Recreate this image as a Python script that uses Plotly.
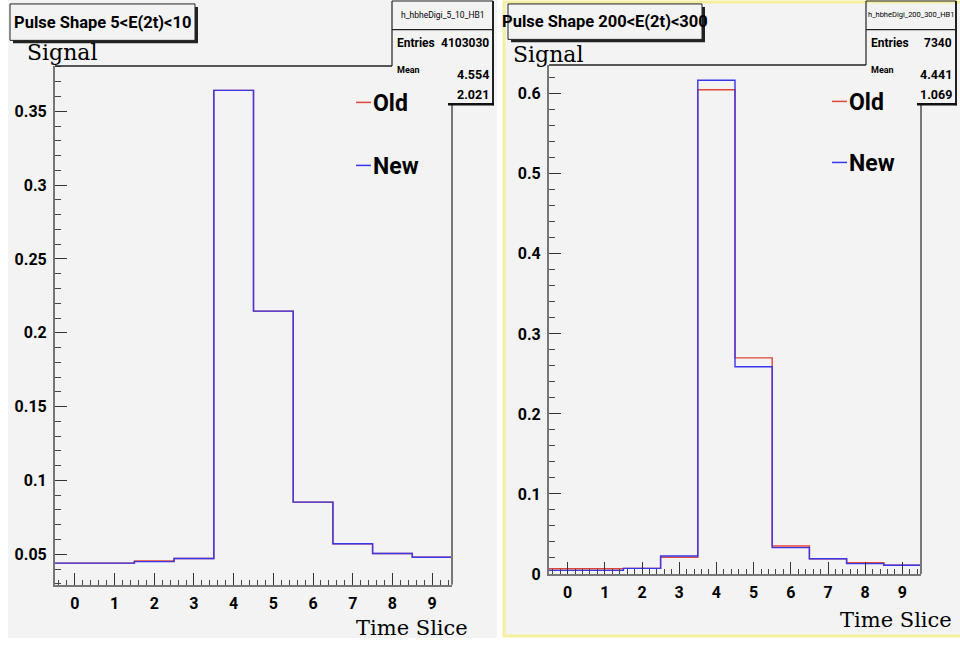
import plotly.graph_objects as go

# ---------------- data ----------------
time_slices = [0, 1, 2, 3, 4, 5, 6, 7, 8, 9]
old_low = [0.0440, 0.0440, 0.0455, 0.0471, 0.3642, 0.2147, 0.0853, 0.0571, 0.0505, 0.0480]
new_low = [0.0440, 0.0440, 0.0450, 0.0471, 0.3642, 0.2147, 0.0853, 0.0571, 0.0505, 0.0480]
old_high = [0.0065, 0.0065, 0.0070, 0.0210, 0.605, 0.270, 0.035, 0.019, 0.014, 0.011]
new_high = [0.0045, 0.0045, 0.0070, 0.0225, 0.617, 0.259, 0.033, 0.019, 0.013, 0.011]

titles = ["Pulse Shape 5<E(2t)<10", "Pulse Shape 200<E(2t)<300"]
hist_names = ["h_hbheDigi_5_10_HB1", "h_hbheDigi_200_300_HB1"]
entries = ["4103030", "7340"]
means = ["4.554", "4.441"]
rmss = ["2.021", "1.069"]

W, H = 960, 648
def px(x):
    return x / W
def py(y):
    return 1 - y / H

NARROW = "Roboto, Liberation Sans, sans-serif"
SERIF = "DejaVu Serif, Liberation Serif, serif"
RED = "rgb(225,70,55)"
BLUE = "rgb(55,55,235)"

def steps(vals):
    xs = [t - 0.5 for t in time_slices] + [time_slices[-1] + 0.5]
    ys = list(vals) + [vals[-1]]
    return xs, ys

fig = go.Figure()
for (old, new, xa, ya) in [(old_low, new_low, "x", "y"), (old_high, new_high, "x2", "y2")]:
    xs, ys = steps(old)
    fig.add_trace(go.Scatter(x=xs, y=ys, mode="lines", line=dict(color=RED, width=1.4, shape="hv"),
                             name="Old", xaxis=xa, yaxis=ya, showlegend=False))
    xs, ys = steps(new)
    fig.add_trace(go.Scatter(x=xs, y=ys, mode="lines", line=dict(color=BLUE, width=1.4, shape="hv"),
                             name="New", xaxis=xa, yaxis=ya, showlegend=False))

# panel geometry (pixels)
panels = [
    dict(x0=55, x1=452, y0=67, y1=594, yr=[0.0293, 0.3807], dt=0.05, mdt=0.01,
         bg=(8, 0, 497, 648), tb=(10, 4, 195, 41), sb=(392, 493), legx=356, legy=(104, 168),
         sig=(62, 53), ts=(412, 638)),
    dict(x0=549, x1=921, y0=66, y1=583, yr=[0.0, 0.636], dt=0.1, mdt=0.02,
         bg=(504, 2, 962, 646), tb=(508, 4, 702, 40), sb=(866, 956), legx=832, legy=(103, 165),
         sig=(548, 55), ts=(896, 630)),
]

axfont = dict(family=NARROW, size=16, color="black", weight="bold")
shapes = []
annotations = []
for i, p in enumerate(panels):
    sx = "" if i == 0 else "2"
    fig.layout["xaxis" + sx] = dict(
        domain=[px(p["x0"]), px(p["x1"])], range=[-0.5, 9.5], anchor="y" + sx,
        tickmode="linear", tick0=0, dtick=1, ticks="inside", ticklen=12, tickwidth=1.3, tickcolor="#333",
        minor=dict(tickmode="linear", tick0=0, dtick=0.2, ticks="inside", ticklen=5, tickwidth=1,
                   tickcolor="#444", showgrid=False),
        showline=True, linecolor="#777", linewidth=2, showgrid=False, zeroline=False,
        tickfont=axfont, ticklabelstandoff=3, fixedrange=True)
    fig.layout["yaxis" + sx] = dict(
        domain=[py(p["y1"]), py(p["y0"])], range=p["yr"], anchor="x" + sx,
        tickmode="linear", tick0=0, dtick=p["dt"], ticks="inside", ticklen=12, tickwidth=1.3,
        tickcolor="#333",
        minor=dict(tickmode="linear", tick0=0, dtick=p["mdt"], ticks="inside", ticklen=6, tickwidth=1,
                   tickcolor="#444", showgrid=False),
        showline=True, linecolor="#777", linewidth=2, showgrid=False, zeroline=False,
        tickfont=axfont, ticklabelstandoff=3, fixedrange=True)

    bx0, by0, bx1, by1 = p["bg"]
    border = "rgba(0,0,0,0)" if i == 0 else "rgb(245,240,160)"
    shapes.append(dict(type="rect", xref="paper", yref="paper", layer="below",
                       x0=px(bx0), x1=px(bx1), y0=py(by1), y1=py(by0),
                       fillcolor="#f3f3f3", line=dict(color=border, width=3 if i else 0)))
    # frame top line and right line
    sbx0, sbx1 = p["sb"]
    shapes.append(dict(type="line", xref="paper", yref="paper", x0=px(p["x0"]), x1=px(sbx0),
                       y0=py(p["y0"]), y1=py(p["y0"]), line=dict(color="#222", width=1.5)))
    shapes.append(dict(type="line", xref="paper", yref="paper", x0=px(p["x1"]), x1=px(p["x1"]),
                       y0=py(106), y1=py(p["y1"]), line=dict(color="#777", width=2)))
    # stats box
    shapes.append(dict(type="line", xref="paper", yref="paper", x0=px(sbx0), x1=px(sbx0),
                       y0=py(1), y1=py(p["y0"]), line=dict(color="#222", width=1.2)))
    shapes.append(dict(type="line", xref="paper", yref="paper", x0=px(sbx0), x1=px(sbx1),
                       y0=py(1), y1=py(1), line=dict(color="#222", width=1.2)))
    shapes.append(dict(type="line", xref="paper", yref="paper", x0=px(sbx0), x1=px(sbx1),
                       y0=py(30), y1=py(30), line=dict(color="#222", width=1.2)))
    shapes.append(dict(type="line", xref="paper", yref="paper", x0=px(sbx1), x1=px(sbx1),
                       y0=py(1), y1=py(107), line=dict(color="#222", width=2)))
    shapes.append(dict(type="line", xref="paper", yref="paper", x0=px(p["x1"] - 4), x1=px(sbx1 + 1),
                       y0=py(106), y1=py(106), line=dict(color="#111", width=2.5)))
    # title box with shadow
    tx0, ty0, tx1, ty1 = p["tb"]
    shapes.append(dict(type="rect", xref="paper", yref="paper", x0=px(tx0 + 3), x1=px(tx1 + 3),
                       y0=py(ty1 + 3), y1=py(ty0 + 3), fillcolor="#222", line=dict(width=0)))
    shapes.append(dict(type="rect", xref="paper", yref="paper", x0=px(tx0), x1=px(tx1),
                       y0=py(ty1), y1=py(ty0), fillcolor="#f3f3f3", line=dict(color="#222", width=1)))
    annotations.append(dict(text=titles[i], xref="paper", yref="paper", x=px((tx0 + tx1) / 2),
                            y=py((ty0 + ty1) / 2), showarrow=False, xanchor="center", yanchor="middle",
                            font=dict(family=NARROW, size=16.5, color="black", weight="bold")))
    # stats text
    annotations.append(dict(text=hist_names[i], xref="paper", yref="paper", x=px((sbx0 + sbx1) / 2),
                            y=py(15), showarrow=False, xanchor="center", yanchor="middle",
                            font=dict(family=NARROW, size=7.5 if i else 8.5, color="black")))
    for (lab, val, yy, fs, lfs) in [("Entries", entries[i], 44, 12, 12), ("Mean", means[i], 76, 12.5, 9),
                                    ("", rmss[i], 96, 12.5, 9)]:
        if lab:
            annotations.append(dict(text=lab, xref="paper", yref="paper", x=px(sbx0 + 3),
                                    y=py(yy if lab == "Entries" else 71), showarrow=False,
                                    xanchor="left", yanchor="middle",
                                    font=dict(family=NARROW, size=lfs, color="black", weight="bold")))
        annotations.append(dict(text=val, xref="paper", yref="paper", x=px(sbx1 - 2), y=py(yy),
                                showarrow=False, xanchor="right", yanchor="middle",
                                font=dict(family=NARROW, size=fs, color="black", weight="bold")))
    # legend
    for (lab, col, yy) in [("Old", RED, p["legy"][0]), ("New", BLUE, p["legy"][1])]:
        shapes.append(dict(type="line", xref="paper", yref="paper", x0=px(p["legx"]), x1=px(p["legx"] + 15),
                           y0=py(yy), y1=py(yy), line=dict(color=col, width=1.5)))
        annotations.append(dict(text=lab, xref="paper", yref="paper", x=px(p["legx"] + 15), y=py(yy + 1),
                                showarrow=False, xanchor="left", yanchor="middle",
                                font=dict(family=NARROW, size=23, color="black", weight="bold")))
    # axis titles
    annotations.append(dict(text="Signal", xref="paper", yref="paper", x=px(p["sig"][0]), y=py(p["sig"][1]),
                            showarrow=False, xanchor="center", yanchor="middle",
                            font=dict(family=SERIF, size=22, color="black")))
    annotations.append(dict(text="Time Slice", xref="paper", yref="paper", x=px(p["ts"][0]), y=py(p["ts"][1]),
                            showarrow=False, xanchor="center", yanchor="middle",
                            font=dict(family=SERIF, size=21, color="black")))

fig.update_layout(width=W, height=H, margin=dict(l=0, r=0, t=0, b=0),
                  paper_bgcolor="white", plot_bgcolor="rgba(0,0,0,0)",
                  shapes=shapes, annotations=annotations, showlegend=False)

fig.write_html("out.html")
